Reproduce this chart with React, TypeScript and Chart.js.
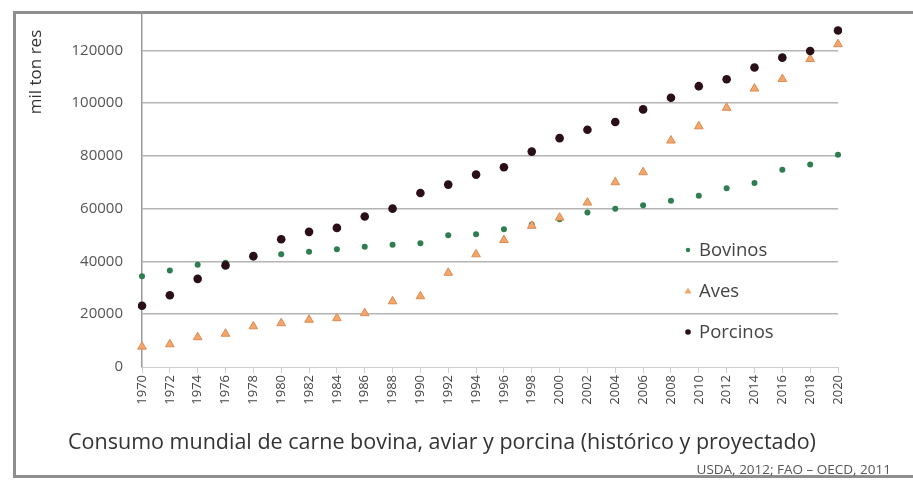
import React, { useEffect, useRef } from "react";
import { Chart, registerables } from "chart.js";

Chart.register(...registerables);

const years = [
  "1970", "1972", "1974", "1976", "1978", "1980", "1982", "1984", "1986", "1988",
  "1990", "1992", "1994", "1996", "1998", "2000", "2002", "2004", "2006", "2008",
  "2010", "2012", "2014", "2016", "2018", "2020",
];

const bovinos = [
  34400, 36600, 38700, 39500, 41500, 42700, 43700, 44600, 45600, 46300,
  46900, 49900, 50300, 52200, 54000, 56000, 58500, 60000, 61300, 63000,
  64900, 67700, 69700, 74700, 76700, 80400,
];

const aves = [
  7700, 8600, 11300, 12600, 15400, 16600, 17900, 18500, 20400, 24900,
  26800, 35700, 42700, 48100, 53500, 56600, 62300, 70000, 73800, 85800,
  91200, 98200, 105500, 109100, 116700, 122300,
];

const porcinos = [
  23200, 27200, 33400, 38500, 42000, 48400, 51200, 52700, 57000, 60000,
  65900, 69100, 72900, 75700, 81600, 86700, 89900, 92800, 97600, 102000,
  106400, 109000, 113500, 117200, 119700, 127500,
];

const seriesNames = ["Bovinos", "Aves", "Porcinos"];
const yTitle = "mil ton res";
const xTitle = "Consumo mundial de carne bovina, aviar y porcina (histórico y proyectado)";
const sourceText = "USDA, 2012; FAO – OECD, 2011";
const yTickValues = [0, 20000, 40000, 60000, 80000, 100000, 120000];

const GREEN = "#2f7d50";
const ORANGE = "#f2a66a";
const ORANGE_BORDER = "#dc8c55";
const DARK = "#2a1016";
const FONT = "'Open Sans', 'DejaVu Sans', sans-serif";

const decorPlugin = {
  id: "decor",
  beforeDraw(chart: any) {
    const ctx = chart.ctx;
    ctx.save();
    ctx.fillStyle = "#ffffff";
    ctx.fillRect(0, 0, chart.width, chart.height);
    ctx.strokeStyle = "#8e8e8e";
    ctx.lineWidth = 3;
    ctx.strokeRect(14.5, 12.5, chart.width + 20, 464);
    ctx.restore();
  },
  afterDraw(chart: any) {
    const ctx = chart.ctx;
    const area = chart.chartArea;
    ctx.save();
    ctx.fillStyle = "#333";
    ctx.font = `17px ${FONT}`;
    ctx.textAlign = "center";
    ctx.textBaseline = "middle";
    ctx.translate(36, 72);
    ctx.rotate(-Math.PI / 2);
    ctx.fillText(yTitle, 0, 0);
    ctx.restore();

    ctx.save();
    ctx.fillStyle = "#333";
    ctx.font = `21.5px ${FONT}`;
    ctx.textAlign = "center";
    ctx.textBaseline = "middle";
    ctx.fillText(xTitle, 442, 443);
    ctx.font = `13.5px ${FONT}`;
    ctx.fillStyle = "#555";
    ctx.textAlign = "right";
    ctx.fillText(sourceText, 891, 470);

    const mx = area.right - 150;
    const rows = [area.bottom - 117, area.bottom - 76, area.bottom - 35];
    const colors = [GREEN, ORANGE, DARK];
    ctx.font = `18.5px ${FONT}`;
    ctx.textAlign = "left";
    rows.forEach((ry, i) => {
      ctx.fillStyle = colors[i];
      ctx.beginPath();
      if (i === 1) {
        ctx.moveTo(mx, ry - 3.5);
        ctx.lineTo(mx + 3.5, ry + 2.5);
        ctx.lineTo(mx - 3.5, ry + 2.5);
        ctx.closePath();
      } else {
        ctx.arc(mx, ry, i === 0 ? 2.2 : 2.8, 0, Math.PI * 2);
      }
      ctx.fill();
      ctx.fillStyle = "#444";
      ctx.fillText(seriesNames[i], mx + 11, ry + 1);
    });
    ctx.restore();
  },
};

export default function App() {
  const canvasRef = useRef<HTMLCanvasElement | null>(null);

  useEffect(() => {
    if (!canvasRef.current) return;
    const chart = new Chart(canvasRef.current, {
      type: "line",
      data: {
        labels: years,
        datasets: [
          {
            label: seriesNames[0],
            data: bovinos,
            showLine: false,
            pointStyle: "circle",
            pointRadius: 3,
            pointBackgroundColor: GREEN,
            pointBorderColor: GREEN,
            pointBorderWidth: 0,
            order: 3,
          },
          {
            label: seriesNames[1],
            data: aves,
            showLine: false,
            pointStyle: "triangle",
            pointRadius: 5,
            pointBackgroundColor: ORANGE,
            pointBorderColor: ORANGE_BORDER,
            pointBorderWidth: 1,
            order: 2,
          },
          {
            label: seriesNames[2],
            data: porcinos,
            showLine: false,
            pointStyle: "circle",
            pointRadius: 4.3,
            pointBackgroundColor: DARK,
            pointBorderColor: DARK,
            pointBorderWidth: 0,
            order: 1,
          },
        ],
      },
      options: {
        responsive: false,
        animation: false,
        layout: { padding: { left: 0, top: 2, right: 75, bottom: 0 } },
        plugins: {
          legend: { display: false },
          tooltip: { enabled: false },
          title: { display: false },
        },
        scales: {
          x: {
            type: "category",
            offset: false,
            grid: {
              drawOnChartArea: false,
              drawTicks: true,
              tickLength: 6,
              color: "#cfcfcf",
            },
            border: { display: true, color: "#cfcfcf" },
            ticks: {
              autoSkip: false,
              minRotation: 90,
              maxRotation: 90,
              padding: 2,
              color: "#444",
              font: { family: FONT, size: 13 },
            },
            afterFit: (scale: any) => {
              scale.height = 114;
            },
          },
          y: {
            min: 0,
            max: 134500,
            ticks: {
              stepSize: 20000,
              padding: 3,
              color: "#555",
              font: { family: FONT, size: 15 },
              callback: (v: any) => String(v),
            },
            afterBuildTicks: (axis: any) => {
              axis.ticks = yTickValues.map((v) => ({ value: v }));
            },
            grid: {
              drawTicks: true,
              tickLength: 16,
              tickColor: "rgba(0,0,0,0)",
              color: (c: any) => (c.tick && c.tick.value === 0 ? "rgba(0,0,0,0)" : "#b4b4b4"),
              lineWidth: 1.5,
            },
            border: { display: true, color: "#9a9a9a", width: 1.5 },
            afterFit: (scale: any) => {
              scale.width = 142;
            },
          },
        },
      },
      plugins: [decorPlugin],
    });
    return () => chart.destroy();
  }, []);

  return (
    <div style={{ position: "fixed", left: 0, top: 0, width: 913, height: 481, background: "#fff" }}>
      <canvas ref={canvasRef} width={913} height={481} style={{ display: "block" }} />
    </div>
  );
}
